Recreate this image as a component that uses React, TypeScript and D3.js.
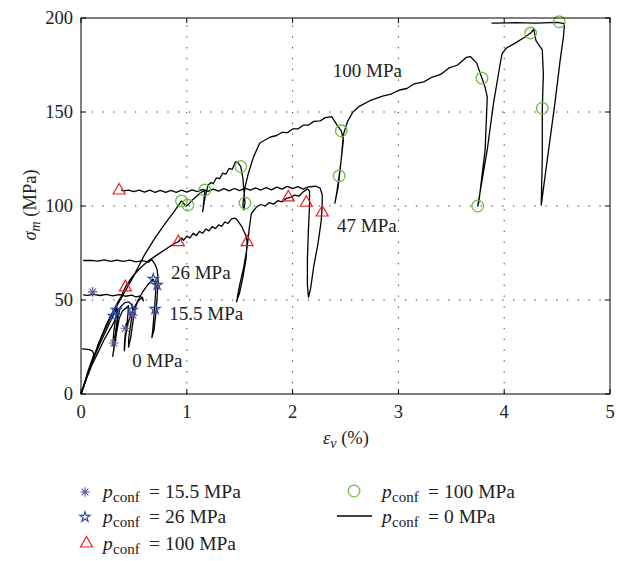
import React from 'react';
import * as d3 from 'd3';

type Pt = [number, number];

const W = 625;
const H = 561;

// axis domain & ticks
const xDomain: [number, number] = [0, 5];
const yDomain: [number, number] = [0, 200];
const xTicks = [0, 1, 2, 3, 4, 5];
const yTicks = [0, 50, 100, 150, 200];
const xGrid = [1, 2, 3, 4];
const yGrid = [50, 100, 150];

// test curves (eps_v %, sigma_m MPa)
const curve0: Pt[] = [[0,0],[0.03,5],[0.06,11],[0.09,16],[0.11,19],[0.12,21],[0.11,22.8],[0.08,23.6],[0.04,23.9],[0.01,24]];

const curve15: Pt[] = [[0,0],[0.05,8],[0.1,15],[0.16,22],[0.22,29],[0.27,34],[0.31,38],[0.34,42],[0.35,45],[0.34,38],[0.32,30],[0.31,24],[0.3,20],[0.32,27.1],[0.34,34],[0.36,40],[0.39,44],[0.43,46],[0.45,47],[0.44,40],[0.42,33],[0.41,26],[0.41,23],[0.42,30],[0.44,37],[0.47,42],[0.5,46],[0.54,49.5],[0.58,51.5],[0.59,49.5],[0.56,52.2],[0.52,51.6],[0.48,52.6],[0.42,52.0],[0.36,52.9],[0.3,52.2],[0.24,53.0],[0.18,52.4],[0.12,53.0],[0.06,52.5],[0.02,52.7]];

const curve26: Pt[] = [[0,0],[0.06,10],[0.12,19],[0.18,27],[0.24,34],[0.29,40],[0.32,43.5],[0.34,46],[0.33,41],[0.31,33],[0.3,26],[0.31,25],[0.33,33],[0.35,41],[0.37,46],[0.41,48.5],[0.45,49],[0.48,47.5],[0.49,44.7],[0.47,37],[0.45,29],[0.45,25],[0.47,30],[0.49,38],[0.51,45],[0.54,50],[0.58,54],[0.63,58],[0.68,61.2],[0.71,58],[0.7,50],[0.69,42],[0.68,35],[0.67,30],[0.69,34],[0.71,44],[0.72,52],[0.73,60],[0.72,66],[0.7,69],[0.67,71.5],[0.64,70.2],[0.58,71.0],[0.52,70.3],[0.46,71.2],[0.4,70.5],[0.34,71.2],[0.28,70.5],[0.22,71.3],[0.16,70.7],[0.1,71.1],[0.02,71]];

const curve47: Pt[] = [[0,0],[0.08,13],[0.16,26],[0.24,37],[0.32,46],[0.38,52],[0.42,57],[0.48,62],[0.56,67],[0.64,71],[0.72,74],[0.8,77],[0.88,80],[0.92,81],[0.95,83],[0.97,81.8],[1.0,84],[1.03,83],[1.06,85.5],[1.09,84.3],[1.12,86.5],[1.15,85.5],[1.18,87.8],[1.21,86.8],[1.24,89],[1.27,88],[1.3,90],[1.33,89.2],[1.36,91.5],[1.39,90.8],[1.42,93],[1.45,93.6],[1.47,93],[1.52,89],[1.56,84],[1.57,81],[1.56,72],[1.53,62],[1.5,54],[1.47,49],[1.5,58],[1.54,68],[1.57,78],[1.59,88],[1.61,96],[1.66,99.5],[1.7,100.8],[1.74,100],[1.78,101.8],[1.82,101],[1.86,102.8],[1.9,102.2],[1.94,104],[1.98,104.6],[2.02,105.8],[2.06,105.2],[2.1,107.5],[2.14,109],[2.16,108],[2.16,100],[2.15,88],[2.14,72],[2.14,58],[2.15,51.5],[2.17,56],[2.2,68],[2.24,80],[2.27,92],[2.28,100],[2.28,106],[2.26,109.5],[2.22,110.5],[2.15,110.2],[2.1,109],[2.05,110.3],[2.0,109.2],[1.95,110.4],[1.9,109],[1.85,110],[1.8,108.6],[1.75,109.8],[1.7,108.5],[1.65,109.6],[1.6,108.4],[1.55,109.5],[1.5,108.2],[1.45,109.3],[1.4,108],[1.35,109.2],[1.3,107.9],[1.25,109],[1.2,107.8],[1.15,108.8],[1.1,107.6],[1.05,108.6],[1.0,107.4],[0.95,108.4],[0.9,107.3],[0.85,108.3],[0.8,107.2],[0.75,108.3],[0.7,107.3],[0.65,108.4],[0.6,107.4],[0.55,108.5],[0.5,107.6],[0.45,108.4],[0.4,108],[0.38,108.5]];

const curve100: Pt[] = [[0,0],[0.1,17],[0.2,31],[0.3,43],[0.4,53],[0.5,63],[0.6,74],[0.7,83],[0.8,91],[0.88,97],[0.95,102.7],[0.99,100],[1.01,100.5],[1.05,103],[1.09,105],[1.13,107],[1.17,108.5],[1.16,102],[1.15,97],[1.17,104],[1.2,111],[1.23,112.5],[1.25,111.8],[1.28,115],[1.31,114.5],[1.34,117.5],[1.37,117],[1.4,120],[1.43,119.5],[1.46,123.5],[1.48,123.4],[1.51,121],[1.53,115],[1.54,108],[1.55,101.6],[1.54,98],[1.53,100.5],[1.55,110],[1.58,117],[1.63,126],[1.69,133.5],[1.79,136.7],[1.85,137.5],[1.9,139.2],[1.95,139],[2.0,141],[2.05,141],[2.1,143],[2.15,143],[2.2,145],[2.26,145.3],[2.31,147],[2.37,147.5],[2.42,143],[2.46,140],[2.48,135],[2.46,125],[2.44,116],[2.42,108],[2.4,101.5],[2.43,110],[2.46,125],[2.48,138],[2.52,145],[2.57,150],[2.63,153],[2.73,156],[2.85,158.5],[2.93,159.5],[3.01,161.7],[3.08,162.5],[3.15,165],[3.24,166],[3.32,168.6],[3.4,170],[3.48,173.5],[3.56,175],[3.64,179],[3.68,179.5],[3.74,176],[3.79,168],[3.82,163],[3.84,158],[3.82,130],[3.76,102],[3.75,100],[3.84,130],[3.9,155],[3.96,175],[3.98,181],[4.02,184],[4.1,186.5],[4.2,190],[4.25,192],[4.28,194],[4.3,188],[4.36,183],[4.37,170],[4.36,152],[4.36,125],[4.35,100.5],[4.42,130],[4.48,155],[4.53,178],[4.56,190],[4.57,197],[4.5,197.7],[4.3,197.3],[4.1,197.5],[3.88,197.3]];

// markers
const asteriskPts: Pt[] = [[0.11,54.3],[0.31,27.1],[0.42,35],[0.49,42]];
const starPts: Pt[] = [[0.335,44.7],[0.306,41.5],[0.485,44.7],[0.683,61.2],[0.72,58],[0.7,45.2]];
const trianglePts: Pt[] = [[0.36,108.5],[0.42,57],[0.92,81],[1.57,81],[1.96,104.8],[2.13,102],[2.28,96.8]];
const circlePts: Pt[] = [[0.95,102.7],[1.01,100.5],[1.17,108.5],[1.51,121],[1.55,101.6],[2.46,140],[2.44,116],[3.75,100],[3.79,168],[4.25,192],[4.36,152],[4.52,198]];

// in-plot labels
const curveLabels: { text: string; x: number; y: number }[] = [
  { text: '100 MPa', x: 2.38, y: 168.6 },
  { text: '47 MPa', x: 2.42, y: 86.2 },
  { text: '26 MPa', x: 0.85, y: 61.2 },
  { text: '15.5 MPa', x: 0.835, y: 39.4 },
  { text: '0 MPa', x: 0.485, y: 14.4 },
];

const legendValues = ['15.5 MPa', '26 MPa', '100 MPa', '100 MPa', '0 MPa'];

const FONT = "'Liberation Serif', 'Times New Roman', serif";
const RED = '#ec1c24';
const GREEN = '#6cbd45';
const BLUE = '#2e4fa3';
const PURPLE = '#6c4f9e';

const x = d3.scaleLinear().domain(xDomain).range([81, 610]);
const y = d3.scaleLinear().domain(yDomain).range([394, 18]);

const line = d3.line<Pt>().x(d => x(d[0])).y(d => y(d[1]));

function asteriskPath(r: number) {
  const d = r * Math.SQRT1_2;
  return `M${-r},0L${r},0M0,${-r}L0,${r}M${-d},${-d}L${d},${d}M${-d},${d}L${d},${-d}`;
}
function trianglePath(w: number, h: number) {
  return `M0,${-h * 0.62}L${w},${h * 0.38}L${-w},${h * 0.38}Z`;
}
const starPath = d3.symbol(d3.symbolStar, 32)() as string;

const Marker: React.FC<{ kind: string; cx: number; cy: number }> = ({ kind, cx, cy }) => {
  if (kind === 'asterisk')
    return <path d={asteriskPath(4.8)} transform={`translate(${cx},${cy})`} stroke={PURPLE} strokeWidth={1.1} fill="none" />;
  if (kind === 'star')
    return <path d={starPath} transform={`translate(${cx},${cy})`} stroke={BLUE} strokeWidth={1.2} fill="none" />;
  if (kind === 'triangle')
    return <path d={trianglePath(6, 10.5)} transform={`translate(${cx},${cy})`} stroke={RED} strokeWidth={1.2} fill="none" />;
  return <circle cx={cx} cy={cy} r={5.8} stroke={GREEN} strokeWidth={1.3} fill="none" />;
};

const Pconf: React.FC<{ x0: number; yb: number; value: string }> = ({ x0, yb, value }) => (
  <g fontFamily={FONT} fill="#222">
    <text x={x0} y={yb} fontSize={19.5} fontStyle="italic">p</text>
    <text x={x0 + 10} y={yb + 4} fontSize={15}>conf</text>
    <text x={x0 + 46} y={yb} fontSize={19.5}>=</text>
    <text x={x0 + 62} y={yb} fontSize={19.5}>{value}</text>
  </g>
);

export default function App() {
  const curves = [curve0, curve15, curve26, curve47, curve100];
  return (
    <svg width={W} height={H} style={{ position: 'absolute', left: 0, top: 0, background: '#fff' }}>
      <rect x={0} y={0} width={W} height={H} fill="#fff" />
      {/* grid */}
      {xGrid.map(v => (
        <line key={'gx' + v} x1={x(v)} x2={x(v)} y1={y(0)} y2={y(200)} stroke="#333" strokeWidth={1} strokeDasharray="1.3,9.5" />
      ))}
      {yGrid.map(v => (
        <line key={'gy' + v} x1={x(0)} x2={x(5)} y1={y(v)} y2={y(v)} stroke="#333" strokeWidth={1} strokeDasharray="1.3,9.5" />
      ))}
      {/* curves */}
      {curves.map((c, i) => (
        <path key={'c' + i} d={line(c) as string} fill="none" stroke="#000" strokeWidth={1.3} strokeLinejoin="round" />
      ))}
      {/* markers */}
      {asteriskPts.map((p, i) => <Marker key={'a' + i} kind="asterisk" cx={x(p[0])} cy={y(p[1])} />)}
      {starPts.map((p, i) => <Marker key={'s' + i} kind="star" cx={x(p[0])} cy={y(p[1])} />)}
      {trianglePts.map((p, i) => <Marker key={'t' + i} kind="triangle" cx={x(p[0])} cy={y(p[1])} />)}
      {circlePts.map((p, i) => <Marker key={'o' + i} kind="circle" cx={x(p[0])} cy={y(p[1])} />)}
      {/* frame */}
      <rect x={x(0)} y={y(200)} width={x(5) - x(0)} height={y(0) - y(200)} fill="none" stroke="#000" strokeWidth={1} />
      {xTicks.map(v => (
        <g key={'tx' + v}>
          <line x1={x(v)} x2={x(v)} y1={y(0)} y2={y(0) - 5} stroke="#000" />
          <line x1={x(v)} x2={x(v)} y1={y(200)} y2={y(200) + 5} stroke="#000" />
          <text x={x(v)} y={y(0) + 24} textAnchor="middle" fontFamily={FONT} fontSize={18.5} fill="#222">{v}</text>
        </g>
      ))}
      {yTicks.map(v => (
        <g key={'ty' + v}>
          <line x1={x(0)} x2={x(0) + 5} y1={y(v)} y2={y(v)} stroke="#000" />
          <line x1={x(5)} x2={x(5) - 5} y1={y(v)} y2={y(v)} stroke="#000" />
          <text x={x(0) - 8} y={y(v) + 6} textAnchor="end" fontFamily={FONT} fontSize={18.5} fill="#222">{v}</text>
        </g>
      ))}
      {/* axis titles */}
      <text x={346} y={444} textAnchor="middle" fontFamily={FONT} fontSize={18.5} fill="#222">
        <tspan fontStyle="italic">ε</tspan>
        <tspan fontStyle="italic" fontSize={14} dy={4}>ν</tspan>
        <tspan dy={-4}> (%)</tspan>
      </text>
      <text transform={`translate(36,205) rotate(-90)`} textAnchor="middle" fontFamily={FONT} fontSize={18.5} fill="#222">
        <tspan fontStyle="italic">σ</tspan>
        <tspan fontStyle="italic" fontSize={14} dy={4}>m</tspan>
        <tspan dy={-4}> (MPa)</tspan>
      </text>
      {/* curve labels */}
      {curveLabels.map((l, i) => (
        <text key={'l' + i} x={x(l.x)} y={y(l.y)} fontFamily={FONT} fontSize={19} fill="#222">{l.text}</text>
      ))}
      {/* legend */}
      <Marker kind="asterisk" cx={85} cy={492} />
      <Pconf x0={103} yb={498} value={legendValues[0]} />
      <Marker kind="star" cx={85} cy={517} />
      <Pconf x0={103} yb={523} value={legendValues[1]} />
      <Marker kind="triangle" cx={86.5} cy={543} />
      <Pconf x0={103} yb={550} value={legendValues[2]} />
      <Marker kind="circle" cx={354} cy={491} />
      <Pconf x0={382} yb={498} value={legendValues[3]} />
      <line x1={337} x2={372} y1={516} y2={516} stroke="#000" strokeWidth={1.3} />
      <Pconf x0={382} yb={523} value={legendValues[4]} />
    </svg>
  );
}
